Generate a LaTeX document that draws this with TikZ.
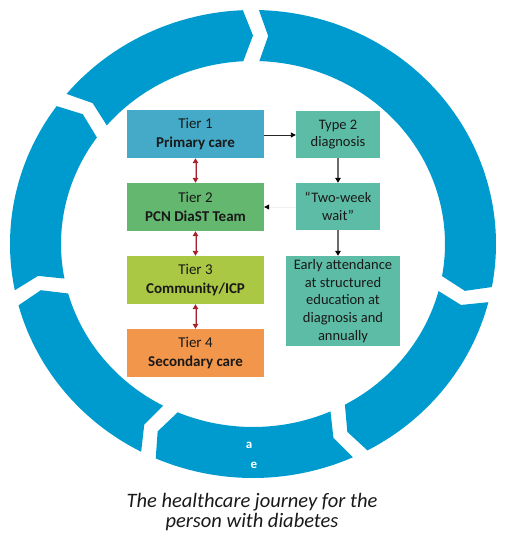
\documentclass[tikz,border=0pt]{standalone}
\usepackage{fontspec}
\setmainfont{Carlito}
\usetikzlibrary{arrows.meta}
\definecolor{ringblue}{RGB}{0,155,206}
\definecolor{tierone}{RGB}{68,170,200}
\definecolor{tiertwo}{RGB}{99,183,110}
\definecolor{tierthree}{RGB}{170,200,68}
\definecolor{tierfour}{RGB}{242,150,75}
\definecolor{tealbox}{RGB}{93,188,166}
\definecolor{darkred}{RGB}{165,35,45}
\definecolor{pinkline}{RGB}{232,160,165}
\definecolor{txt}{RGB}{25,25,25}
\begin{document}
\begin{tikzpicture}[x=1pt,y=1pt,
  box/.style={rectangle, inner sep=0pt, align=center, text=txt,
    font=\fontsize{15}{19}\selectfont},
  tealstyle/.style={box, fill=tealbox, font=\fontsize{14.5}{17.7}\selectfont},
  redarr/.style={draw=darkred, line width=2pt,
    {Triangle[length=5pt,width=5.5pt]}-{Triangle[length=5pt,width=5.5pt]}},
  pinkarr/.style={draw=pinkline, line width=0.7pt, shorten <=5pt, shorten >=5pt},
  grayarr/.style={draw=black!58, line width=1.5pt, -{Triangle[length=5pt,width=5.5pt,color=black]}},
  blackarr/.style={draw=black!85, line width=0.9pt, -{Triangle[length=5pt,width=5pt,color=black]}}
]
\useasboundingbox (0,0) rectangle (506,538);
% ring of chevron segments
\begin{scope}[shift={(253,294)}]
\foreach \a/\b in {142/90.5, 90.5/-12.5, -12.5/-63.8, -63.8/-115.5, -115.5/-166.7, -166.7/-218}{
  \fill[ringblue] (\a-1.9:243pt and 234pt) -- (\a-4.5:217.5pt and 208.5pt)
    -- (\a-2.4:192pt and 183pt)
    arc[start angle=\a-2.4, end angle=\b+2.4, x radius=192pt, y radius=183pt]
    -- (\b-0.5:217.5pt and 208.5pt) -- (\b+1.9:243pt and 234pt)
    arc[start angle=\b+1.9, end angle=\a-1.9, x radius=243pt, y radius=234pt]
    -- cycle;
}
\end{scope}
\node[text=white, font=\fontsize{13}{14}\selectfont\bfseries] (la) at (249,93) {a};
\node[text=white, font=\fontsize{13}{14}\selectfont\bfseries] (le) at (254,73) {e};
% tier boxes
\node[box, fill=tierone, minimum width=137pt, minimum height=48pt] (t1) at (195.5,404) {Tier 1\\\textbf{Primary care}};
\node[box, fill=tiertwo, minimum width=137pt, minimum height=48pt] (t2) at (195.5,331) {Tier 2\\\textbf{PCN DiaST Team}};
\node[box, fill=tierthree, minimum width=137pt, minimum height=48pt] (t3) at (195.5,258) {Tier 3\\\textbf{Community/ICP}};
\node[box, fill=tierfour, minimum width=137pt, minimum height=48pt] (t4) at (195.5,185) {Tier 4\\\textbf{Secondary care}};
% right column
\node[tealstyle, minimum width=84pt, minimum height=47pt] (dg) at (338,403.5) {Type 2\\diagnosis};
\node[tealstyle, minimum width=84pt, minimum height=47pt] (tw) at (338,331.5) {“Two-week\\wait”};
\node[tealstyle, minimum width=114pt, minimum height=90pt] (ea) at (343,237) {Early attendance\\at structured\\education at\\diagnosis and\\annually};
% connectors
\foreach \p/\q in {t1/t2, t2/t3, t3/t4}{
  \draw[redarr] (\p.south) -- (\q.north);
  \draw[pinkarr] (\p.south) -- (\q.north);
}
\draw[blackarr] (t1.east |- 0,403) -- (dg.west |- 0,403);
\draw[grayarr] (dg.south) -- (dg.south |- tw.north);
\draw[grayarr] (tw.south) -- (tw.south |- ea.north);
\draw[draw=black!5, line width=0.8pt, -{Triangle[length=5pt,width=5pt,color=black]}] (tw.west |- 0,331) -- (t2.east |- 0,331);
% caption
\node[font=\fontsize{20.5}{20}\selectfont\itshape, align=center, text=txt] (cap) at (252,26) {The healthcare journey for the\\person with diabetes};
\end{tikzpicture}
\end{document}
